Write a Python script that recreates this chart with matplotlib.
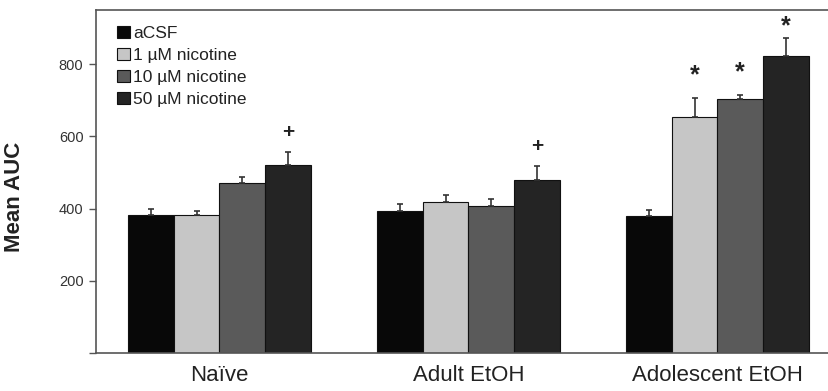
import numpy as np
import matplotlib
matplotlib.use("Agg")
import matplotlib.pyplot as plt

plt.rcParams["font.family"] = ["Liberation Sans", "DejaVu Sans"]

groups = ["Naïve", "Adult EtOH", "Adolescent EtOH"]
series = ["aCSF", "1 µM nicotine", "10 µM nicotine", "50 µM nicotine"]
means = [
    [382, 381, 470, 520],   # Naive
    [393, 418, 407, 479],   # Adult EtOH
    [379, 653, 703, 822],   # Adolescent EtOH
]
errs = [
    [16, 11, 17, 38],
    [19, 19, 19, 39],
    [17, 53, 11, 50],
]
# significance marks: (group, series, symbol)
marks = [(0, 3, "+"), (1, 3, "+"), (2, 1, "*"), (2, 2, "*"), (2, 3, "*")]
mark_gap = [14, 14, 16.5, 16.5, 8.5]   # points above the error cap

colors = ["#080808", "#c6c6c6", "#5a5a5a", "#242424"]

means = np.array(means)
errs = np.array(errs)

fig = plt.figure(figsize=(8.29, 3.91), dpi=100)
ax = fig.add_axes([0.1158, 0.0972, 0.8842, 0.8772])

x = np.arange(len(groups))
w = 0.183
for i, name in enumerate(series):
    pos = x + (i - 1.5) * w
    ax.bar(pos, means[:, i], w, color=colors[i], edgecolor="#111111",
           linewidth=0.8, label=name, zorder=2)
    ax.errorbar(pos, means[:, i], yerr=[np.zeros(len(groups)), errs[:, i]],
                fmt="none", ecolor="#333333", elinewidth=1.2, capsize=2.5,
                capthick=1.2, zorder=3)

for (g, s, sym), gap in zip(marks, mark_gap):
    px = x[g] + (s - 1.5) * w
    top = means[g, s] + errs[g, s]
    fs = 15 if sym == "+" else 18
    ax.annotate(sym, (px, top), xytext=(0, gap), textcoords="offset points",
                ha="center", va="center", fontsize=fs, color="#222222",
                fontweight="bold")

ax.set_xlim(-0.496, 2.448)
ax.set_ylim(0, 950)
ax.set_yticks([0, 200, 400, 600, 800])
ax.set_yticklabels(["", "200", "400", "600", "800"])
ax.set_xticks(x)
ax.set_xticklabels(groups, fontsize=16, color="#222222")
ax.tick_params(axis="x", length=0, pad=9)
ax.tick_params(axis="y", length=5, width=1, color="#555555",
               labelsize=10.5, labelcolor="#333333", pad=4)
ax.set_ylabel("Mean AUC", fontsize=16, fontweight="bold", color="#222222")
ax.yaxis.set_label_coords(-0.097, 0.455)

for sp in ["left", "bottom", "top"]:
    ax.spines[sp].set_color("#555555")
    ax.spines[sp].set_linewidth(1.2)
ax.spines["right"].set_visible(False)

leg = ax.legend(loc="upper left", bbox_to_anchor=(0.012, 0.99), frameon=False,
                fontsize=12.5, handlelength=0.75, handleheight=0.75,
                handletextpad=0.2, labelspacing=0.38, borderaxespad=0.3)
for t in leg.get_texts():
    t.set_color("#222222")

fig.savefig("out.png", dpi=100)
